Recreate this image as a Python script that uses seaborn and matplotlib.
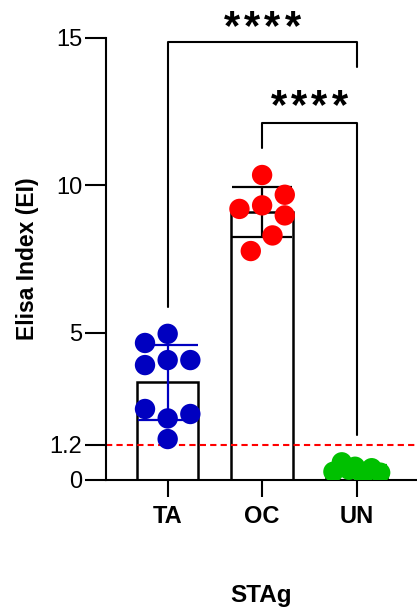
import numpy as np
import pandas as pd
import matplotlib
matplotlib.use('Agg')
import matplotlib.pyplot as plt
import seaborn as sns

# ---- data ----
groups = ['TA', 'OC', 'UN']
ta_values = [4.96, 4.65, 3.90, 4.07, 4.07, 2.41, 2.09, 2.24, 1.39]
oc_values = [10.35, 9.68, 9.20, 9.32, 8.98, 8.30, 7.77]
un_values = [0.28, 0.60, 0.45, 0.15, 0.40, 0.25, 0.35]
ta_offsets = [0.0, -0.24, -0.24, 0.0, 0.24, -0.24, 0.0, 0.24, 0.0]
oc_offsets = [0.0, 0.24, -0.24, 0.0, 0.24, 0.11, -0.12]
un_offsets = [-0.245, -0.156, -0.016, 0.07, 0.16, 0.25, -0.08]
threshold = 1.2
yticks = [0, 1.2, 5, 10, 15]
ytick_labels = ['0', '1.2', '5', '10', '15']
sig_label = '****'
# brackets: (group_a, group_b, top, end_a, end_b, label_y)
brackets = [(0, 2, 14.87, 5.88, 14.02, 14.95),
            (1, 2, 12.10, 11.27, 1.53, 12.27)]

point_colors = ['#0000C0', '#FF0000', '#00C000']
err_colors = ['#0000C0', '#000000', '#00C000']

values = [ta_values, oc_values, un_values]
offsets = [ta_offsets, oc_offsets, un_offsets]

df = pd.DataFrame({
    'group': np.repeat(groups, [len(v) for v in values]),
    'value': np.concatenate(values),
})

sns.set_style('ticks')
plt.rcParams['font.family'] = ['Liberation Sans', 'DejaVu Sans']
plt.rcParams['text.color'] = 'black'
plt.rcParams['axes.labelcolor'] = 'black'
plt.rcParams['xtick.color'] = 'black'
plt.rcParams['ytick.color'] = 'black'
plt.rcParams['axes.edgecolor'] = 'black'

fig = plt.figure(figsize=(4.17, 6.12), dpi=100)
ax = fig.add_axes([106/417, 1-480/612, (417-106)/417, (480-38)/612])

sns.barplot(data=df, x='group', y='value', order=groups, errorbar=None,
            width=0.65, color='white', saturation=1, edgecolor='black',
            linewidth=1.8, ax=ax, zorder=2)

for i, (vals, offs) in enumerate(zip(values, offsets)):
    m = np.mean(vals)
    sd = np.std(vals, ddof=1)
    ax.errorbar(i, m, yerr=sd, color=err_colors[i], capsize=21.5,
                elinewidth=1.6, capthick=1.6, zorder=3)
    sns.scatterplot(x=i + np.array(offs), y=vals, color=point_colors[i],
                    s=215, edgecolor='none', linewidth=0, ax=ax,
                    zorder=4, legend=False)

ax.axhline(threshold, color='#FF0000', lw=1.5, ls=(0, (3, 2)), zorder=2.5)

for a, b, top, ea, eb, ly in brackets:
    ax.plot([a, a, b, b], [ea, top, top, eb], color='black', lw=1.5,
            clip_on=False, zorder=5)
    n = len(sig_label)
    for k, ch in enumerate(sig_label):
        ax.annotate(ch, xy=((a + b) / 2, ly), xytext=((k - (n - 1) / 2) * 14.6, 0),
                    textcoords='offset points', ha='center', va='baseline',
                    fontsize=30, fontweight='bold', annotation_clip=False)

ax.set_xlim(-0.653, 2.64)
ax.set_ylim(0, 15)
ax.set_yticks(yticks)
ax.set_yticklabels(ytick_labels)
sns.despine(ax=ax)
for s in ['left', 'bottom']:
    ax.spines[s].set_linewidth(1.5)
ax.tick_params(axis='y', length=15, width=1.5, labelsize=17, pad=2)
ax.tick_params(axis='x', length=12, width=1.5, labelsize=17, pad=6)
for lab in ax.get_xticklabels():
    lab.set_fontweight('bold')
ax.set_xlabel('STAg', fontsize=17.5, fontweight='bold', labelpad=40)
ax.set_ylabel('Elisa Index (EI)', fontsize=16.5, fontweight='bold', labelpad=8)

fig.savefig('out.png', dpi=100)
